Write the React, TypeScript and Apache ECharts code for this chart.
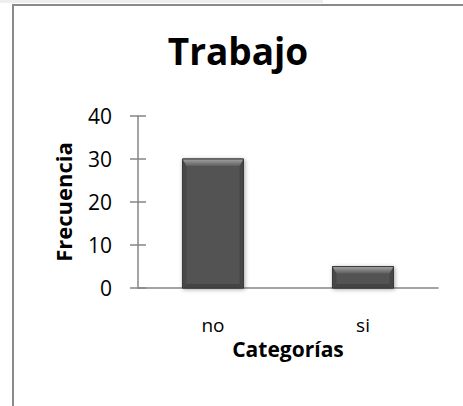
import React, { useEffect, useRef } from "react";
import * as echarts from "echarts";

const title = "Trabajo";
const categories = ["no", "si"];
const frecuencia = [30, 5];
const yTicks = { min: 0, max: 40, interval: 10 };
const xAxisName = "Categorías";
const yAxisName = "Frecuencia";

const FONT = "'Open Sans', 'Noto Sans', sans-serif";
const AXIS_COLOR = "#868686";

function renderBar(params: any, api: any) {
  const idx = api.value(0);
  const val = api.value(1);
  const topPt = api.coord([idx, val]);
  const basePt = api.coord([idx, 0]);
  const w = api.size([1, 0])[0] * 0.4067;
  const x0 = topPt[0] - w / 2;
  const x1 = topPt[0] + w / 2;
  const y0 = topPt[1];
  const y1 = basePt[1];
  const b = Math.min(7, (y1 - y0) / 2.5);
  const s = Math.min(4, (y1 - y0) / 3);
  return {
    type: "group",
    children: [
      {
        type: "rect",
        shape: { x: x0, y: y0, width: w, height: y1 - y0 },
        style: {
          fill: "#525252",
          stroke: "#3a3a3a",
          lineWidth: 1,
          shadowBlur: 4,
          shadowColor: "rgba(0,0,0,0.35)",
          shadowOffsetX: 1,
          shadowOffsetY: 1,
        },
      },
      {
        type: "polygon",
        shape: { points: [[x0, y1], [x0 + s, y1 - s], [x1 - s, y1 - s], [x1, y1]] },
        style: { fill: "#444444" },
      },
      {
        type: "polygon",
        shape: { points: [[x0, y0], [x0 + s, y0 + b], [x0 + s, y1 - s], [x0, y1]] },
        style: { fill: "#484848" },
      },
      {
        type: "polygon",
        shape: { points: [[x1, y0], [x1 - s, y0 + b], [x1 - s, y1 - s], [x1, y1]] },
        style: { fill: "#464646" },
      },
      {
        type: "polygon",
        shape: { points: [[x0, y0], [x1, y0], [x1 - s, y0 + b], [x0 + s, y0 + b]] },
        style: {
          fill: {
            type: "linear", x: 0, y: 0, x2: 0, y2: 1,
            colorStops: [
              { offset: 0, color: "#a4a4a4" },
              { offset: 1, color: "#5e5e5e" },
            ],
          },
        },
      },
      {
        type: "rect",
        shape: { x: x0, y: y0, width: w, height: y1 - y0 },
        style: { fill: null, stroke: "#3a3a3a", lineWidth: 1 },
      },
    ],
  };
}

export default function App() {
  const ref = useRef<HTMLDivElement>(null);
  useEffect(() => {
    if (!ref.current) return;
    document.body.style.margin = "0";
    document.body.style.overflow = "hidden";
    const chart = echarts.init(ref.current, undefined, { renderer: "svg" });
    chart.setOption({
      animation: false,
      backgroundColor: "#ffffff",
      textStyle: { fontFamily: FONT },
      title: {
        text: title,
        left: 233,
        top: 27,
        textAlign: "center",
        textStyle: { fontSize: 37, fontWeight: "bold", color: "#000", fontFamily: FONT },
      },
      graphic: [
        {
          type: "rect",
          z: 100,
          shape: { x: 0, y: 0, width: 323, height: 3 },
          style: { fill: "#eeeeee" },
          silent: true,
        },
        {
          type: "polyline",
          z: 100,
          shape: { points: [[463, 5], [13, 5], [13, 406]] },
          style: { stroke: "#8a8a8a", lineWidth: 2, fill: null },
          silent: true,
        },
      ],
      grid: { left: 138, right: 25, top: 116, bottom: 118, containLabel: false },
      xAxis: {
        type: "category",
        data: categories,
        name: xAxisName,
        nameLocation: "middle",
        nameGap: 50,
        nameTextStyle: { fontSize: 21, fontWeight: "bold", color: "#000", fontFamily: FONT },
        axisLine: { lineStyle: { color: AXIS_COLOR, width: 1.5 } },
        axisTick: { show: false },
        axisLabel: { fontSize: 19, color: "#000", margin: 27, fontFamily: FONT },
      },
      yAxis: [
        {
          type: "value",
          min: yTicks.min,
          max: yTicks.max,
          interval: yTicks.interval,
          name: yAxisName,
          nameLocation: "middle",
          nameGap: 64,
          nameRotate: 90,
          nameTextStyle: { fontSize: 22, fontWeight: "bold", color: "#000", fontFamily: FONT },
          axisLine: { show: true, lineStyle: { color: AXIS_COLOR, width: 1.5 } },
          axisTick: { show: true, length: 8, lineStyle: { color: AXIS_COLOR, width: 1.5 } },
          axisLabel: { fontSize: 21, color: "#000", margin: 26, fontFamily: FONT },
          splitLine: { show: false },
        },
        {
          type: "value",
          position: "left",
          min: yTicks.min,
          max: yTicks.max,
          interval: yTicks.interval,
          axisLine: { show: false },
          axisTick: { show: true, inside: true, length: 8, lineStyle: { color: AXIS_COLOR, width: 1.5 } },
          axisLabel: { show: false },
          splitLine: { show: false },
        },
      ],
      series: [
        {
          type: "custom",
          name: yAxisName,
          renderItem: renderBar,
          encode: { x: 0, y: 1 },
          data: frecuencia.map((v, i) => [i, v]),
          z: 2,
        },
      ],
    });
    return () => chart.dispose();
  }, []);
  return (
    <div
      ref={ref}
      style={{ position: "absolute", left: 0, top: 0, width: 463, height: 406 }}
    />
  );
}
